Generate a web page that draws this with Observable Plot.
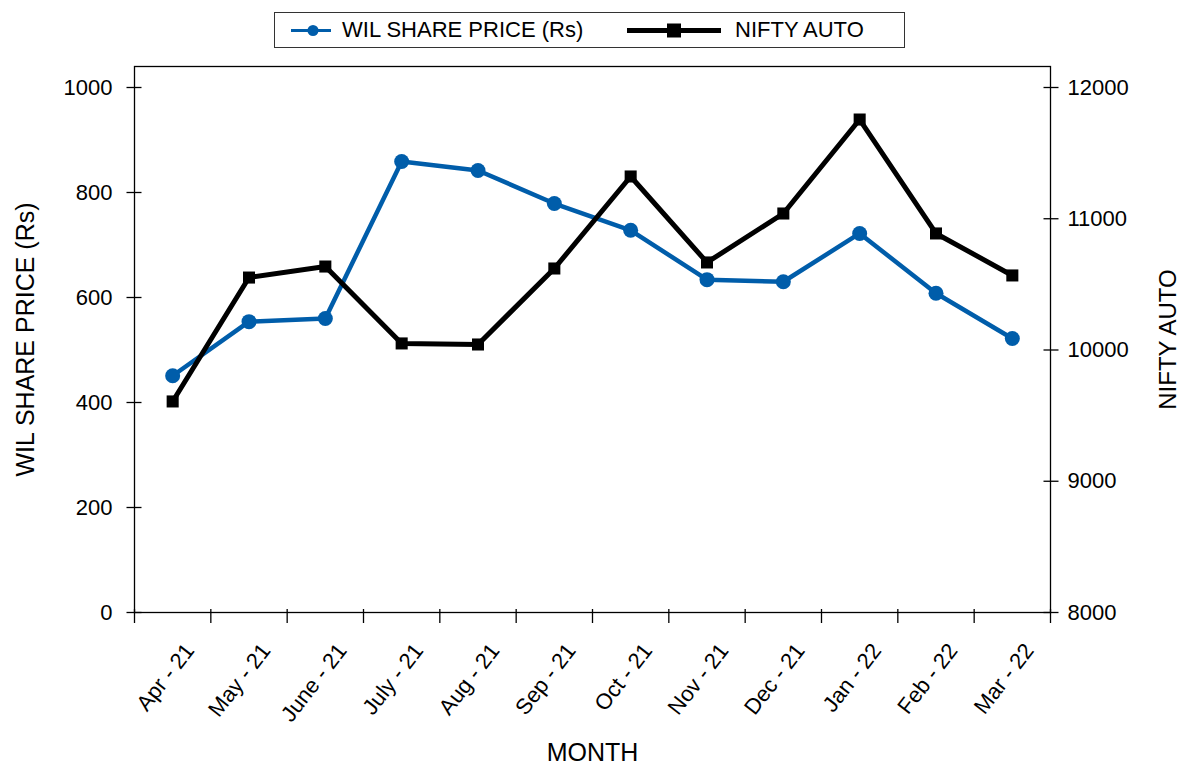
<!DOCTYPE html>
<html>
<head>
<meta charset="utf-8">
<script src="https://cdn.jsdelivr.net/npm/d3@7"></script>
<script src="https://cdn.jsdelivr.net/npm/@observablehq/plot@0.6"></script>
<style>
  body { margin: 0; background: #fff; font-family: "Liberation Sans", Arial, sans-serif; }
  #wrap { position: relative; width: 1181px; height: 767px; }
  #legend { position: absolute; left: 274px; top: 12px; width: 631px; height: 36px;
            border: 1px solid #333; box-sizing: border-box; background: #fff; }
  #legend svg { position: absolute; left: 0; top: 0; }
  .lt { position: absolute; top: 4px; font-size: 22px; line-height: 26px; color: #000; white-space: nowrap; }
</style>
</head>
<body>
<div id="wrap">
  <div id="chart"></div>
  <div id="legend"></div>
</div>
<script>
const months = ["Apr - 21", "May - 21", "June - 21", "July - 21", "Aug - 21", "Sep - 21",
                "Oct - 21", "Nov - 21", "Dec - 21", "Jan - 22", "Feb - 22", "Mar - 22"];
const wilPrice = [451, 554, 560, 859, 842, 779, 728, 634, 630, 722, 608, 522];
const niftyAuto = [9608, 10552, 10636, 10050, 10042, 10621, 11322, 10667, 11040, 11756, 10888, 10568];
const leftTicks = [0, 200, 400, 600, 800, 1000];
const rightTicks = [8000, 9000, 10000, 11000, 12000];
const seriesNames = ["WIL SHARE PRICE (Rs)", "NIFTY AUTO"];
const xTitle = "MONTH";

const BLUE = "#005DAA";
// map right-axis values onto the left axis scale (8000..12000 -> 0..1000)
const toLeft = v => (v - 8000) / 4;

const data = months.map((m, i) => ({i, month: m, wil: wilPrice[i], nifty: niftyAuto[i]}));
const edges = d3.range(months.length + 1).map(k => k - 0.5);

const chart = Plot.plot({
  width: 1181,
  height: 767,
  marginLeft: 134,
  marginRight: 131,
  marginTop: 66,
  marginBottom: 155,
  style: {fontFamily: "'Liberation Sans', Arial, sans-serif", fontSize: "22px", color: "#000", background: "transparent"},
  x: {type: "linear", domain: [-0.5, months.length - 0.5], axis: null},
  y: {domain: [0, 1040], axis: null},
  marks: [
    Plot.frame({stroke: "#000", strokeWidth: 1.3}),
    Plot.axisX({ticks: edges, tickFormat: () => "", tickSize: 14, dy: -3, strokeWidth: 1.3, label: null}),
    Plot.text(data, {x: "i", y: 0, text: "month", rotate: -52, textAnchor: "end", dx: 17, dy: 34, fontSize: 22}),
    Plot.axisY({anchor: "left", ticks: leftTicks, tickFormat: d => String(d), tickSize: 15, dx: 7.5, tickPadding: 14.5, fontSize: 22, strokeWidth: 1.3, label: null}),
    Plot.axisY({anchor: "right", ticks: rightTicks.map(toLeft), tickFormat: (d, k) => String(rightTicks[k]), tickSize: 15, dx: -7.5, tickPadding: 9.5, fontSize: 22, strokeWidth: 1.3, label: null}),
    Plot.text([seriesNames[0]], {frameAnchor: "left", textAnchor: "middle", rotate: -90, dx: -109, fontSize: 25}),
    Plot.text([seriesNames[1]], {frameAnchor: "right", textAnchor: "middle", rotate: -90, dx: 118, fontSize: 24}),
    Plot.text([xTitle], {frameAnchor: "bottom", dy: 148, fontSize: 25}),
    Plot.line(data, {x: "i", y: "wil", stroke: BLUE, strokeWidth: 4.5}),
    Plot.dot(data, {x: "i", y: "wil", fill: BLUE, r: 7.5}),
    Plot.line(data, {x: "i", y: d => toLeft(d.nifty), stroke: "#000", strokeWidth: 5}),
    Plot.dot(data, {x: "i", y: d => toLeft(d.nifty), symbol: "square", fill: "#000", r: 6.8})
  ]
});
document.getElementById("chart").appendChild(chart);

// legend
const lg = document.getElementById("legend");
lg.innerHTML = `
<svg width="631" height="36">
  <line x1="16" x2="56" y1="17.5" y2="17.5" stroke="${BLUE}" stroke-width="3"/>
  <circle cx="38" cy="17.5" r="5.5" fill="${BLUE}"/>
  <line x1="352" x2="446" y1="17.5" y2="17.5" stroke="#000" stroke-width="5"/>
  <rect x="392" y="10.5" width="14" height="14" fill="#000"/>
</svg>
<div class="lt" style="left:67px">${seriesNames[0]}</div>
<div class="lt" style="left:460px">${seriesNames[1]}</div>`;
</script>
</body>
</html>
